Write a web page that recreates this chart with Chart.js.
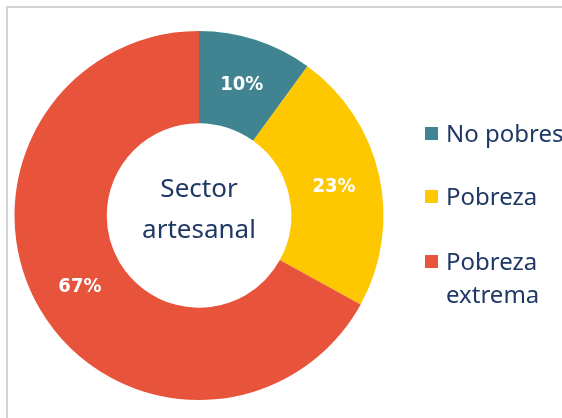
<!DOCTYPE html>
<html>
<head>
<meta charset="utf-8">
<script src="https://cdn.jsdelivr.net/npm/chart.js"></script>
<style>
  html, body { margin: 0; padding: 0; background: #fff; }
  #wrap { position: relative; width: 562px; height: 418px; overflow: hidden; }
  #frame {
    position: absolute; left: 6px; top: 6px; width: 600px; height: 450px;
    border-left: 2px solid #d3d3d3; border-top: 2px solid #d3d3d3;
  }
  canvas { position: absolute; left: 0; top: 0; }
</style>
</head>
<body>
<div id="wrap">
  <div id="frame"></div>
  <canvas id="chart" width="562" height="418"></canvas>
</div>
<script>
const categories = ["No pobres", "Pobreza", "Pobreza extrema"];
const legendLines = [["No pobres"], ["Pobreza"], ["Pobreza", "extrema"]];
const shares = [10, 23, 67];
const colors = ["#3F8490", "#FDC800", "#E8533B"];
const centerLines = ["Sector", "artesanal"];

const navy = "#1F3864";

// percentages drawn on each slice
const sliceLabels = {
  id: "sliceLabels",
  afterDatasetsDraw(chart) {
    const ctx = chart.ctx;
    const meta = chart.getDatasetMeta(0);
    ctx.save();
    ctx.font = "bold 20px 'DejaVu Sans Condensed', 'DejaVu Sans'";
    ctx.fillStyle = "#fff";
    ctx.textAlign = "center";
    ctx.textBaseline = "middle";
    meta.data.forEach((arc, i) => {
      const pos = arc.tooltipPosition();
      ctx.fillText(shares[i] + "%", pos.x, pos.y + 1);
    });
    ctx.restore();
  },
};

// text in the hole
const centerText = {
  id: "centerText",
  afterDatasetsDraw(chart) {
    const ctx = chart.ctx;
    const arc = chart.getDatasetMeta(0).data[0];
    ctx.save();
    ctx.font = "26px 'Noto Sans'";
    ctx.fillStyle = navy;
    ctx.textAlign = "center";
    ctx.textBaseline = "alphabetic";
    ctx.fillText(centerLines[0], arc.x, 197);
    ctx.fillText(centerLines[1], arc.x, 238);
    ctx.restore();
  },
};

// legend on the right, with a wrapped last label
const sideLegend = {
  id: "sideLegend",
  afterDraw(chart) {
    const ctx = chart.ctx;
    const rows = [142, 205, 270];
    ctx.save();
    ctx.font = "24px 'Noto Sans'";
    ctx.textBaseline = "alphabetic";
    ctx.textAlign = "left";
    categories.forEach((c, i) => {
      const y = rows[i];
      ctx.fillStyle = colors[i];
      ctx.fillRect(425, y - 15, 13, 13);
      ctx.fillStyle = navy;
      legendLines[i].forEach((t, j) => {
        ctx.fillText(t, 446, y + j * 33);
      });
    });
    ctx.restore();
  },
};

new Chart(document.getElementById("chart"), {
  type: "doughnut",
  data: {
    labels: categories,
    datasets: [
      {
        data: shares,
        backgroundColor: colors,
        borderWidth: 0,
      },
    ],
  },
  options: {
    responsive: false,
    animation: false,
    cutout: "50%",
    layout: {
      padding: { left: 14.5, top: 31, bottom: 18, right: 178.5 },
    },
    plugins: {
      legend: { display: false },
      tooltip: { enabled: false },
    },
  },
  plugins: [sliceLabels, centerText, sideLegend],
});
</script>
</body>
</html>
